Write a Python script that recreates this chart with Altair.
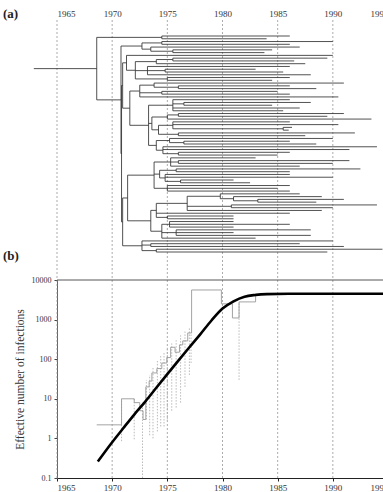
import altair as alt
import pandas as pd

# ---------------- data ----------------
YEARS = [1965, 1970, 1975, 1980, 1985, 1990, 1995]
Y_TICKS = [0.1, 1, 10, 100, 1000, 10000]
PANEL_LABELS = ["(a)", "(b)"]
Y_TITLE = "Effective number of infections"

# phylogeny: internal node = (node year, [children]); tip = sampling year
ROOT_STEM = 1962.9
TOP = (1974.5, [1986.1, 1984.0])
C1 = (1972.7, [(1974.5, [1990.0, 1986.1]),
               (1973.5, [1987.0, (1975.5, [1984.5, 1983.8])])])
C2 = (1972.1, [(1974.0, [(1975.5, [1989.5, 1986.5]), 1987.5]),
               (1973.2, [1986.1, (1974.8, [1983.0, 1985.5]), 1988.0]),
               (1975.0, [1986.1, 1984.5])])
C3 = (1972.5, [(1973.8, [1991.0, (1976.0, [1986.1, 1988.5])]),
               (1974.5, [1985.0, 1986.1]),
               1990.5])
D = (1973.3, [(1975.5, [1986.1, (1976.5, [1988.0, 1984.5]), 1987.0, 1985.5]),
              (1973.6, [(1975.0, [(1976.0, [1991.0, 1989.5]), 1993.5]),
                        (1974.2, [(1975.5, [1986.1, 1990.5, (1985.5, [1986.3, 1986.0])]),
                                  (1976.0, [1992.0, 1987.5])])]),
              (1974.0, [(1975.2, [1990.0, (1976.5, [1986.1, 1988.5])]),
                        (1974.6, [1994.0, 1991.5, (1976.0, [1986.1, 1985.0])])])])
E = (1973.8, [(1975.3, [1983.0, (1976.0, [1991.5, 1990.0]), 1987.0]),
              (1974.3, [(1975.8, [1992.5, 1986.1]),
                        (1974.8, [1986.1, 1990.0, (1976.2, [1981.0, 1982.5])])]),
              (1975.0, [1986.1, 1985.0, 1986.1])])
F = (1974.0, [(1976.8, [(1979.8, [1987.0, (1981.0, [1989.0, (1983.2, [1991.0, 1988.5])])]),
                        (1980.8, [1994.0, 1990.0]),
                        1989.0]),
              1986.1,
              (1975.0, [1981.0, 1981.0])])
G = (1974.5, [(1975.2, [1981.0, 1986.1, 1981.0]),
              (1975.8, [1988.0, 1981.0, 1988.0]),
              1983.0])
BOTTOM = (1972.7, [1990.0, (1973.5, [1987.0, 1991.0]), (1974.0, [1994.5, 1989.5])])
M1 = (1970.95, [(1971.3, [1990.0, C2]), (1971.6, [C3, D])])
M2 = (1970.95, [(1971.4, [E, (1973.5, [F, G])]), BOTTOM])
ROOT = (1968.6, [TOP, (1970.8, [C1, (1970.85, [M1, M2])])])

# skyline plot (step values) and its confidence limits
SKY_START = [1968.6, 1970.85, 1972.0, 1972.5, 1972.8, 1973.05, 1973.35, 1973.6, 1974.05,
             1974.5, 1974.95, 1975.3, 1975.7, 1976.1, 1976.4, 1976.85, 1977.2, 1979.9,
             1980.9, 1981.5, 1983.0, 1995.0]
SKY_VALUE = [2.2, 10, 8, 5, 3, 20, 28, 45, 58, 80, 110, 200, 150, 230, 290, 460, 5600,
             2500, 1100, 2800, 4500, 4500]
CI_YEAR = [1970.85, 1972.0, 1972.75, 1973.1, 1973.4, 1973.7, 1974.1, 1974.4, 1974.7,
           1975.0, 1975.4, 1975.8, 1976.2, 1976.6, 1977.0, 1977.15, 1981.5]
CI_LOW = [0.85, 0.95, 0.1, 3, 1.2, 1.0, 1.5, 2.0, 2.0, 3, 5, 6, 8, 20, 40, 80, 30]
CI_HIGH = [10, 10, 8, 30, 40, 60, 90, 120, 150, 200, 250, 300, 400, 500, 600, 460, 2800]

# logistic growth fit
FIT_YEAR = [1968.7, 1970, 1971, 1972, 1973, 1974, 1975, 1976, 1977, 1978, 1979, 1980,
            1981, 1982, 1983, 1984, 1986, 1995]
FIT_VALUE = [0.26, 0.8, 1.8, 4.0, 8.5, 19, 42, 92, 200, 430, 950, 1900, 2900, 3800,
             4200, 4400, 4500, 4500]

# ---------------- tree layout ----------------
segs = []
counter = [0]


def lay(node, parent_t):
    if isinstance(node, (int, float)):
        y = counter[0]
        counter[0] += 1
        segs.append(dict(x=parent_t, x2=node, y=y, y2=y, kind="tip"))
        return y
    t, kids = node
    ys = [lay(k, t) for k in kids]
    y = (ys[0] + ys[-1]) / 2
    segs.append(dict(x=t, x2=t, y=ys[0], y2=ys[-1], kind="node"))
    segs.append(dict(x=parent_t, x2=t, y=y, y2=y, kind="node"))
    return y


lay(ROOT, ROOT_STEM)
NTIPS = counter[0]
tree_df = pd.DataFrame(segs)

FONT = "Liberation Serif"
xs = alt.Scale(domain=[1965, 1995], range=[57, 388], nice=False, zero=False)
tree_y = alt.Scale(domain=[0, NTIPS - 1], range=[36, 252], nice=False, zero=False)
log_y = alt.Scale(type="log", domain=[0.1, 10000], range=[478, 280], nice=False)

years_df = pd.DataFrame({"year": YEARS})

grid = alt.Chart(years_df).mark_rule(color="#888", strokeWidth=0.7, strokeDash=[2, 2]).encode(
    x=alt.X("year:Q", scale=xs,
            axis=alt.Axis(orient="top", offset=-20, values=YEARS, format="d", domain=False,
                          ticks=False, tickSize=0, labelPadding=2, grid=False, title=None,
                          labelFont=FONT, labelFontSize=9, labelColor="#333")),
    y=alt.value(20), y2=alt.value(478))

tree = alt.Chart(tree_df).mark_rule(color="#333", strokeWidth=0.85).encode(
    x=alt.X("x:Q", scale=xs, axis=None), x2="x2:Q",
    y=alt.Y("y:Q", scale=tree_y, axis=None), y2="y2:Q")

border_df = pd.DataFrame({"x": [1965], "x2": [1995], "v": [10000]})
border = alt.Chart(border_df).mark_rule(color="#444", strokeWidth=0.9).encode(
    x=alt.X("x:Q", scale=xs, axis=None), x2="x2:Q",
    y=alt.Y("v:Q", scale=log_y, axis=None))

ci_df = pd.DataFrame({"year": CI_YEAR, "lo": CI_LOW, "hi": CI_HIGH})
ci = alt.Chart(ci_df).mark_rule(color="#aaa", strokeWidth=0.8, strokeDash=[1.5, 1.5]).encode(
    x=alt.X("year:Q", scale=xs, axis=None),
    y=alt.Y("lo:Q", scale=log_y, axis=None), y2="hi:Q")

sky_df = pd.DataFrame({"year": SKY_START, "n": SKY_VALUE})
sky = alt.Chart(sky_df).mark_line(color="#999", strokeWidth=0.9, interpolate="step-after").encode(
    x=alt.X("year:Q", scale=xs, axis=None),
    y=alt.Y("n:Q", scale=log_y, axis=None))

fit_df = pd.DataFrame({"year": FIT_YEAR, "n": FIT_VALUE})
fit = alt.Chart(fit_df).mark_line(color="black", strokeWidth=2.6, interpolate="monotone").encode(
    x=alt.X("year:Q", scale=xs,
            axis=alt.Axis(orient="bottom", values=YEARS, format="d", grid=False, title=None,
                          domainColor="#222", domainWidth=1, tickColor="#222", tickSize=3,
                          labelPadding=2, labelFont=FONT, labelFontSize=9, labelColor="#333")),
    y=alt.Y("n:Q", scale=log_y,
            axis=alt.Axis(orient="left", offset=-57, values=Y_TICKS, format="~g", grid=False,
                          title=Y_TITLE, titleFont=FONT, titleFontSize=11.5,
                          titleFontWeight="normal", titleColor="#333", titlePadding=6,
                          domainColor="#666", domainWidth=1, tickColor="#444", tickSize=3,
                          labelPadding=3, labelFont=FONT, labelFontSize=8,
                          labelColor="#333")))

lab_a = alt.Chart(pd.DataFrame({"t": [PANEL_LABELS[0]]})).mark_text(
    font=FONT, fontSize=13, fontWeight="bold", align="left", baseline="middle", color="#222"
).encode(x=alt.value(3), y=alt.value(14), text="t:N")
lab_b = alt.Chart(pd.DataFrame({"t": [PANEL_LABELS[1]]})).mark_text(
    font=FONT, fontSize=13, fontWeight="bold", align="left", baseline="middle", color="#222"
).encode(x=alt.value(3), y=alt.value(256), text="t:N")

chart = alt.layer(grid, tree, border, ci, sky, fit, lab_a, lab_b).resolve_scale(
    y="independent").resolve_axis(x="independent").properties(
    width=383, height=478, autosize=alt.AutoSizeParams(type="none"),
    padding={"left": 0, "top": 0, "right": 0, "bottom": 14},
    background="white").configure_view(strokeWidth=0)

chart.save("out.html", embed_options={"renderer": "svg", "actions": False})
